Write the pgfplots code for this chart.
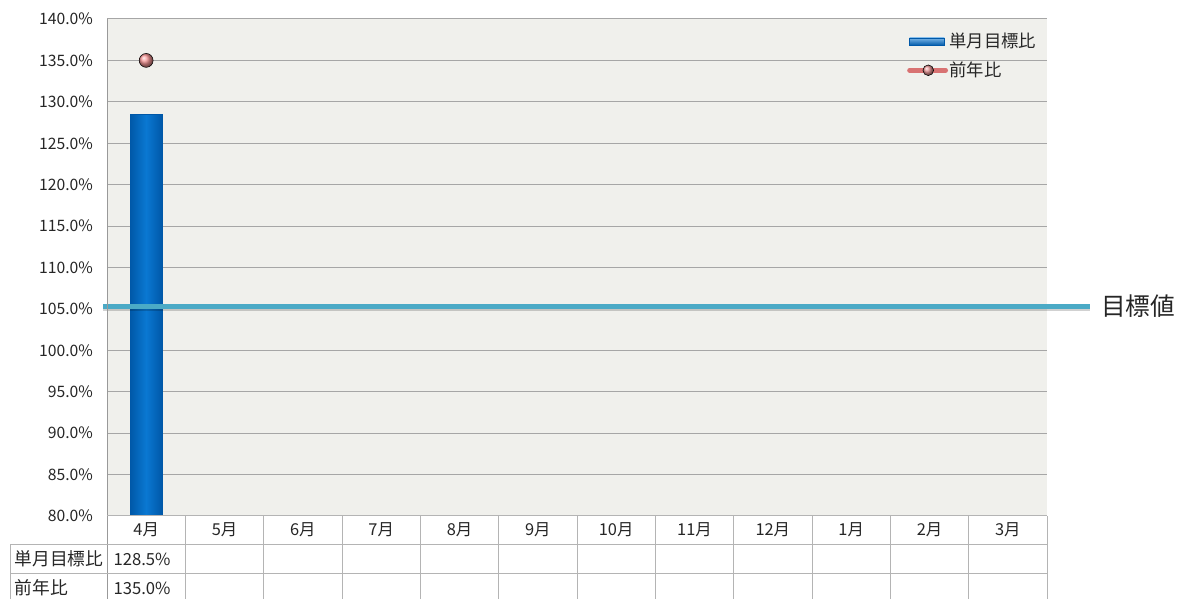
\documentclass[border=0pt]{standalone}
\usepackage{fontspec}
\setmainfont{Noto Sans CJK JP}
\usepackage{pgfplots}
\pgfplotsset{compat=1.18}
\definecolor{bg}{HTML}{F0F0EC}
\definecolor{gridc}{HTML}{A6A6A6}
\definecolor{tbl}{HTML}{B4B4B4}
\definecolor{barb}{HTML}{0A78D2}
\definecolor{bard}{HTML}{0058A8}
\definecolor{tgt}{HTML}{4BAAC6}
\definecolor{ballr}{HTML}{F59595}
\definecolor{legr}{HTML}{D87272}
\definecolor{txt}{HTML}{262626}
\begin{document}
\begin{tikzpicture}
\begin{scope}[x=0.75pt,y=0.75pt]
\useasboundingbox (0,0) rectangle (1192,599);
\end{scope}
\begin{axis}[
  at={(80.25pt,62.25pt)}, anchor=south west,
  scale only axis, width=705pt, height=372.75pt,
  xmin=-0.5, xmax=11.5, ymin=80, ymax=140,
  xtick=\empty,
  ytick={80,85,...,140},
  yticklabel={\pgfmathprintnumber[assume math mode=true,fixed,fixed zerofill,precision=1]{\tick}\%},
  yticklabel style={font=\fontsize{11.8}{13}\selectfont, text=txt, xshift=-7pt},
  ymajorgrids, grid style={gridc, line width=0.75pt},
  axis background/.style={fill=bg},
  axis line style={draw=none},
  tick style={draw=none},
  legend style={at={(0.851,0.977)}, anchor=north west, draw=none, fill=none,
    font=\fontsize{13}{14}\selectfont, text=txt, row sep=5pt, inner sep=0pt,
    nodes={inner xsep=1pt}},
  legend cell align=left,
]
\addplot[ybar, bar width=24pt, left color=bard, right color=bard, middle color=barb, draw=bard,
  legend image code/.code={\shade[top color=barb!55!white, bottom color=bard, draw=bard] (0pt,-2.8pt) rectangle (26pt,2.8pt);}]
  coordinates {(0,128.5)};
\addplot[only marks, mark=ball, mark size=5.2pt, mark options={ball color=ballr},
  legend image code/.code={\draw[line width=3.6pt, color=legr, line cap=round] (0pt,0pt)--(27pt,0pt); \shade[ball color=ballr!85!gray] (14pt,0pt) circle (4pt);}]
  coordinates {(0,135)};
\legend{単月目標比,前年比}
\end{axis}
\begin{axis}[
  at={(80.25pt,62.25pt)}, anchor=south west,
  scale only axis, width=705pt, height=372.75pt,
  xmin=-0.5, xmax=11.5, ymin=80, ymax=140,
  hide axis, clip=false,
]
\addplot[line width=3.75pt, black, opacity=0.18, yshift=-1.8pt] coordinates {(-0.551,105.3) (12.05,105.3)};
\addplot[line width=3.75pt, tgt] coordinates {(-0.551,105.3) (12.05,105.3)}
  node[pos=1, anchor=west, xshift=3pt, font=\fontsize{18.5}{20}\selectfont, text=txt] {目標値};
\end{axis}
\begin{scope}[x=0.75pt,y=0.75pt]
\draw[gray!80, line width=0.75pt] (107,580)--(107,0);
\draw[tbl, line width=0.75pt] (107,83)--(1047,83) (10,54)--(1047,54) (10,25)--(1047,25) (10,54)--(10,0);
\foreach \i in {1,...,12} \draw[tbl, line width=0.75pt] ({107+78.333*\i},83)--({107+78.333*\i},0);
\foreach \m [count=\i from 0] in {4,5,6,7,8,9,10,11,12,1,2,3}
  \node[font=\fontsize{12.3}{14}\selectfont, text=txt] at ({146.17+78.333*\i},69) {\m 月};
\node[anchor=west, font=\fontsize{13.3}{15}\selectfont, text=txt] at (10,40) {単月目標比};
\node[anchor=west, font=\fontsize{13.3}{15}\selectfont, text=txt] at (10,11) {前年比};
\node[font=\fontsize{12.5}{14}\selectfont, text=txt] at (142,40) {128.5\%};
\node[font=\fontsize{12.5}{14}\selectfont, text=txt] at (142,11) {135.0\%};
\end{scope}
\end{tikzpicture}
\end{document}
